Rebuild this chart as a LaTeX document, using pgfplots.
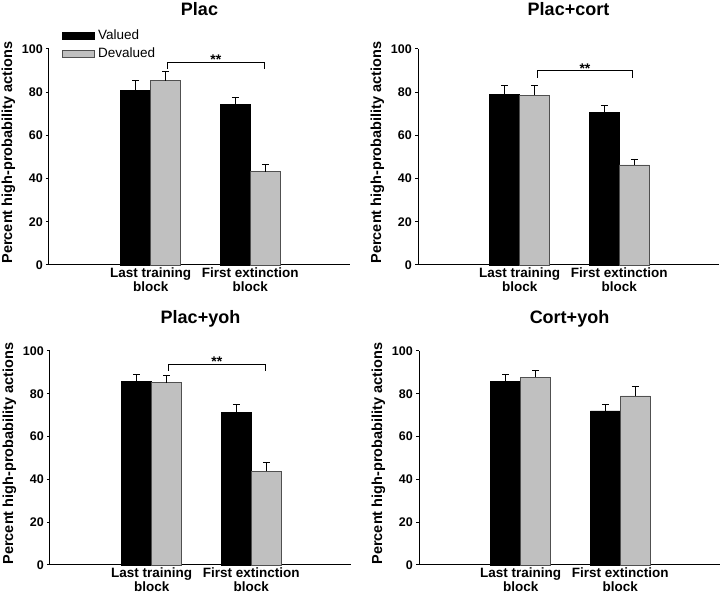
\documentclass[border=0pt]{standalone}
\usepackage{fontspec}
\setmainfont{Liberation Sans}
\usepackage{pgfplots}
\pgfplotsset{compat=1.18}
\definecolor{lgray}{HTML}{C0C0C0}
\definecolor{dgray}{HTML}{505050}
\pgfplotsset{
 panel/.style={
  scale only axis, width=301pt, height=216pt, anchor=south west,
  ybar=0pt, bar width=30pt,
  xmin=-1.02, xmax=2, ymin=0, ymax=100,
  axis x line*=bottom, axis y line*=left, axis line style={-, line width=1pt},
  xtick={0,1}, xticklabels={{Last training\\block},{First extinction\\block}},
  xticklabel style={align=center, font=\bfseries\fontsize{13.5}{13.5}\selectfont, inner sep=0pt, yshift=0pt},
  x tick style={draw=none},
  ytick={0,20,...,100}, tick align=outside, major tick length=3pt,
  y tick style={line width=1pt, black},
  yticklabel style={font=\bfseries\fontsize{12.5}{12}\selectfont, inner sep=3pt},
  /pgf/number format/assume math mode=true,
  ylabel={Percent high-probability actions},
  ylabel style={font=\bfseries\fontsize{14.5}{14.5}\selectfont, at={(axis description cs:-0.135,0.52)}, anchor=center},
  title style={font=\bfseries\fontsize{18}{18}\selectfont, anchor=base},
  clip=false,
 },
 valued/.style={fill=black, draw=black,
   error bars/.cd, y dir=plus, y explicit,
   error bar style={black, line width=0.8pt},
   error mark options={rotate=90, mark size=3.5pt, line width=0.8pt, black}},
 devalued/.style={fill=lgray, draw=dgray, line width=0.8pt,
   error bars/.cd, y dir=plus, y explicit,
   error bar style={black, line width=0.8pt},
   error mark options={rotate=90, mark size=3.5pt, line width=0.8pt, black}},
}
\begin{document}
\begin{tikzpicture}
\path[use as bounding box] (0,0) rectangle (720pt,594pt);
% Top-left: Plac
\begin{axis}[panel, at={(49pt,329pt)},
  title={Plac}, title style={at={(axis description cs:0.5,1.129)}},
  legend image code/.code={\draw[#1] (0pt,-3.5pt) rectangle (32pt,3.5pt);},
  legend style={draw=none, fill=none, at={(axis description cs:0.042,1.10)}, anchor=north west,
    font=\fontsize{13.5}{13.5}\selectfont, row sep=1.5pt, inner sep=0pt,
    nodes={inner xsep=3.5pt, inner ysep=2.5pt}},
  legend cell align=left]
\addplot[valued] coordinates {(0,80.7) +- (0,4.6) (1,74.4) +- (0,3.1)};
\addplot[devalued] coordinates {(0,85.3) +- (0,4.4) (1,43.2) +- (0,3.4)};
\legend{Valued, Devalued}
\draw[line width=0.8pt] (axis cs:0.17,90.7) -- (axis cs:0.17,93.8) -- (axis cs:1.14,93.8) -- (axis cs:1.14,90.7);
\node[anchor=south, inner sep=0pt, yshift=-2.5pt, font=\bfseries\fontsize{14}{14}\selectfont] at (axis cs:0.655,93.8) {**};
\end{axis}
% Top-right: Plac+cort
\begin{axis}[panel, at={(418pt,329pt)},
  title={Plac+cort}, title style={at={(axis description cs:0.5,1.129)}}]
\addplot[valued] coordinates {(0,79.0) +- (0,4.3) (1,70.8) +- (0,3.1)};
\addplot[devalued] coordinates {(0,78.6) +- (0,4.7) (1,46.3) +- (0,2.8)};
\draw[line width=0.8pt] (axis cs:0.18,86.6) -- (axis cs:0.18,89.9) -- (axis cs:1.13,89.9) -- (axis cs:1.13,86.6);
\node[anchor=south, inner sep=0pt, yshift=-2.5pt, font=\bfseries\fontsize{14}{14}\selectfont] at (axis cs:0.655,89.9) {**};
\end{axis}
% Bottom-left: Plac+yoh
\begin{axis}[panel, at={(50pt,29pt)}, height=214pt,
  title={Plac+yoh}, title style={at={(axis description cs:0.5,1.099)}}]
\addplot[valued] coordinates {(0,85.9) +- (0,3.1) (1,71.3) +- (0,3.9)};
\addplot[devalued] coordinates {(0,85.1) +- (0,3.6) (1,43.8) +- (0,4.3)};
\draw[line width=0.8pt] (axis cs:0.17,90.7) -- (axis cs:0.17,93.6) -- (axis cs:1.14,93.6) -- (axis cs:1.14,90.7);
\node[anchor=south, inner sep=0pt, yshift=-2.5pt, font=\bfseries\fontsize{14}{14}\selectfont] at (axis cs:0.655,93.6) {**};
\end{axis}
% Bottom-right: Cort+yoh
\begin{axis}[panel, at={(419pt,29pt)}, height=214pt,
  title={Cort+yoh}, title style={at={(axis description cs:0.5,1.099)}}]
\addplot[valued] coordinates {(0,85.9) +- (0,3.1) (1,72.0) +- (0,3.1)};
\addplot[devalued] coordinates {(0,87.8) +- (0,2.9) (1,79.0) +- (0,4.6)};
\end{axis}
\end{tikzpicture}
\end{document}
